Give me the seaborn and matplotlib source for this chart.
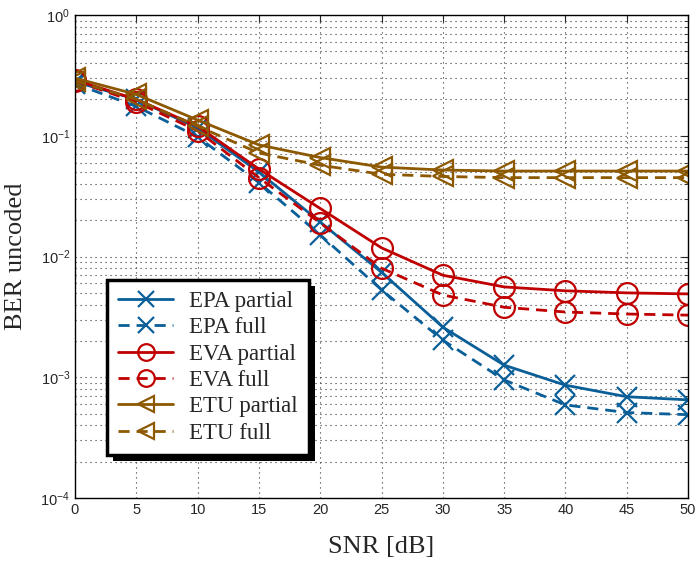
import numpy as np
import pandas as pd
import seaborn as sns
import matplotlib.pyplot as plt
from matplotlib.patches import Rectangle

# SNR grid and uncoded BER
snr = [0, 5, 10, 15, 20, 25, 30, 35, 40, 45, 50]
epa_partial = [0.28, 0.20, 0.116, 0.050, 0.0193, 0.0074, 0.0026, 0.00126, 0.00086, 0.00069, 0.00065]
epa_full = [0.27, 0.175, 0.098, 0.041, 0.0151, 0.0053, 0.00203, 0.00095, 0.00059, 0.00051, 0.00049]
eva_partial = [0.29, 0.20, 0.12, 0.053, 0.0250, 0.0118, 0.0070, 0.0056, 0.0052, 0.0050, 0.0049]
eva_full = [0.285, 0.19, 0.11, 0.045, 0.0190, 0.0080, 0.0048, 0.0038, 0.00347, 0.00334, 0.00327]
etu_partial = [0.30, 0.22, 0.135, 0.084, 0.066, 0.055, 0.052, 0.051, 0.051, 0.051, 0.051]
etu_full = [0.285, 0.20, 0.12, 0.072, 0.057, 0.048, 0.046, 0.045, 0.045, 0.045, 0.045]

labels = ["EPA partial", "EPA full", "EVA partial", "EVA full", "ETU partial", "ETU full"]
series = [epa_partial, epa_full, eva_partial, eva_full, etu_partial, etu_full]

blue, red, brown = "#0b5f98", "#c00000", "#8c5800"
styles = [
    (blue, "x", "-"), (blue, "x", "--"),
    (red, "o", "-"), (red, "o", "--"),
    (brown, "<", "-"), (brown, "<", "--"),
]

sns.set_style("white")
plt.rcParams["font.family"] = ["Liberation Sans", "DejaVu Sans"]

fig = plt.figure(figsize=(6.97, 5.68), dpi=100)
ax = fig.add_axes([0.1076, 0.1232, 0.8795, 0.8504])

for lab, vals, (col, mk, ls) in zip(labels, series, styles):
    df = pd.DataFrame({"snr": snr, "ber": vals})
    line_kw = dict(color=col, marker=mk, markersize=15, markeredgewidth=1.6,
                   markerfacecolor="none", markeredgecolor=col, linewidth=2,
                   label=lab)
    if ls == "--":
        line_kw["dashes"] = (4, 2.5)
    sns.lineplot(data=df, x="snr", y="ber", ax=ax, **line_kw)

ax.set_yscale("log")
ax.set_xlim(0, 50)
ax.set_ylim(1e-4, 1)
ax.set_xticks(range(0, 51, 5))

grid_kw = dict(linestyle=(0, (1, 3.5)), color="#333333", linewidth=0.8)
ax.grid(True, which="major", axis="both", **grid_kw)
ax.grid(True, which="minor", axis="y", **grid_kw)
ax.tick_params(which="both", direction="in", top=True, right=True, labelsize=10.5)
ax.tick_params(which="major", length=5)
ax.tick_params(which="minor", length=3)
for sp in ax.spines.values():
    sp.set_color("black")
    sp.set_linewidth(1.0)

ax.set_xlabel("SNR [dB]", family="Liberation Serif", fontsize=19, labelpad=14)
ax.set_ylabel("BER uncoded", family="Liberation Serif", fontsize=19, labelpad=10)

leg = ax.legend(loc="lower left", bbox_to_anchor=(0.052, 0.089), borderaxespad=0,
                prop={"family": "Liberation Serif", "size": 16.5}, fancybox=False,
                framealpha=1, edgecolor="black", handlelength=2.4, markerscale=0.8,
                handletextpad=0.7, labelspacing=0.23, borderpad=0.5)
leg.get_frame().set_linewidth(2.5)
leg.set_zorder(10)

# hard black drop shadow behind the legend box
fig.canvas.draw()
bb = leg.get_window_extent()
shadow = Rectangle((bb.x0 + 6, bb.y0 - 6), bb.width, bb.height, transform=None,
                   facecolor="black", edgecolor="none", zorder=9, clip_on=False)
ax.add_artist(shadow)

fig.savefig("out.png", dpi=100)
